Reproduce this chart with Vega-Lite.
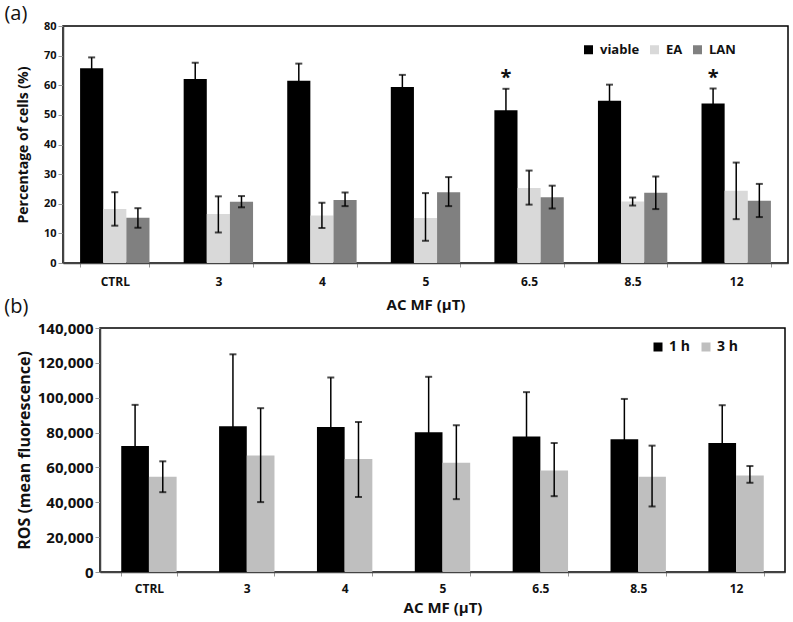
{
  "$schema": "https://vega.github.io/schema/vega-lite/v6.json",
  "padding": {"left": 3, "top": 3, "right": 2, "bottom": 2},
  "background": "white",
  "config": {
    "font": "Open Sans",
    "view": {"stroke": "#000", "strokeWidth": 1.5},
    "axis": {
      "grid": false,
      "domainColor": "#444",
      "domainWidth": 1.5,
      "tickColor": "#999",
      "tickWidth": 1,
      "labelFont": "Open Sans",
      "labelFontWeight": "bold",
      "labelColor": "#111",
      "titleFont": "Open Sans",
      "titleFontWeight": "bold",
      "titleColor": "#111"
    },
    "legend": {"labelFont": "Open Sans", "labelFontWeight": "bold", "labelColor": "#111"}
  },
  "datasets": {
    "a": [
      {"dose": "CTRL", "cell": "viable", "v": 65.7, "lo": 62.0, "hi": 69.4},
      {"dose": "CTRL", "cell": "EA", "v": 18.2, "lo": 12.6, "hi": 23.9},
      {"dose": "CTRL", "cell": "LAN", "v": 15.3, "lo": 11.9, "hi": 18.5},
      {"dose": "3", "cell": "viable", "v": 62.1, "lo": 56.6, "hi": 67.6},
      {"dose": "3", "cell": "EA", "v": 16.5, "lo": 10.3, "hi": 22.5},
      {"dose": "3", "cell": "LAN", "v": 20.7, "lo": 18.8, "hi": 22.6},
      {"dose": "4", "cell": "viable", "v": 61.5, "lo": 55.7, "hi": 67.3},
      {"dose": "4", "cell": "EA", "v": 16.0, "lo": 11.8, "hi": 20.3},
      {"dose": "4", "cell": "LAN", "v": 21.3, "lo": 19.2, "hi": 23.8},
      {"dose": "5", "cell": "viable", "v": 59.4, "lo": 55.3, "hi": 63.5},
      {"dose": "5", "cell": "EA", "v": 15.2, "lo": 7.5, "hi": 23.6},
      {"dose": "5", "cell": "LAN", "v": 23.9, "lo": 19.2, "hi": 29.0},
      {"dose": "6.5", "cell": "viable", "v": 51.6, "lo": 44.4, "hi": 58.8},
      {"dose": "6.5", "cell": "EA", "v": 25.3, "lo": 19.7, "hi": 31.2},
      {"dose": "6.5", "cell": "LAN", "v": 22.2, "lo": 18.4, "hi": 26.1},
      {"dose": "8.5", "cell": "viable", "v": 54.8, "lo": 49.4, "hi": 60.2},
      {"dose": "8.5", "cell": "EA", "v": 20.8, "lo": 19.4, "hi": 22.1},
      {"dose": "8.5", "cell": "LAN", "v": 23.7, "lo": 18.2, "hi": 29.2},
      {"dose": "12", "cell": "viable", "v": 53.8, "lo": 48.7, "hi": 58.9},
      {"dose": "12", "cell": "EA", "v": 24.4, "lo": 14.8, "hi": 33.9},
      {"dose": "12", "cell": "LAN", "v": 21.0, "lo": 15.5, "hi": 26.7}
    ],
    "stars": [
      {"dose": "6.5", "cell": "viable", "y": 60.5, "label": "*"},
      {"dose": "12", "cell": "viable", "y": 60.5, "label": "*"}
    ],
    "b": [
      {"dose": "CTRL", "time": "1 h", "v": 72300, "lo": 48700, "hi": 95900},
      {"dose": "CTRL", "time": "3 h", "v": 54700, "lo": 45800, "hi": 63500},
      {"dose": "3", "time": "1 h", "v": 83600, "lo": 42300, "hi": 124900},
      {"dose": "3", "time": "3 h", "v": 66900, "lo": 40100, "hi": 94000},
      {"dose": "4", "time": "1 h", "v": 83200, "lo": 54800, "hi": 111600},
      {"dose": "4", "time": "3 h", "v": 64800, "lo": 43000, "hi": 86100},
      {"dose": "5", "time": "1 h", "v": 80200, "lo": 48400, "hi": 112000},
      {"dose": "5", "time": "3 h", "v": 62700, "lo": 41800, "hi": 84200},
      {"dose": "6.5", "time": "1 h", "v": 77700, "lo": 52200, "hi": 103200},
      {"dose": "6.5", "time": "3 h", "v": 58300, "lo": 43500, "hi": 74000},
      {"dose": "8.5", "time": "1 h", "v": 76100, "lo": 52900, "hi": 99300},
      {"dose": "8.5", "time": "3 h", "v": 54700, "lo": 37600, "hi": 72500},
      {"dose": "12", "time": "1 h", "v": 74000, "lo": 52300, "hi": 95700},
      {"dose": "12", "time": "3 h", "v": 55400, "lo": 51200, "hi": 60800}
    ],
    "empty": []
  },
  "spacing": -17,
  "resolve": {
    "scale": {"x": "independent", "y": "independent", "color": "independent", "xOffset": "independent"},
    "legend": {"color": "independent"}
  },
  "vconcat": [
    {
      "title": {"text": "(a)", "anchor": "start", "dx": -12, "fontSize": 20, "fontWeight": "normal", "font": "Open Sans", "offset": -4, "color": "#111"},
      "width": 725,
      "height": 237,
      "data": {"name": "a"},
      "encoding": {
        "x": {
          "field": "dose", "type": "nominal",
          "sort": ["CTRL", "3", "4", "5", "6.5", "8.5", "12"],
          "scale": {"paddingInner": 0.33, "paddingOuter": 0.165},
          "axis": {"title": "AC MF (μT)", "labelAngle": 0, "labelFontSize": 12, "titleFontSize": 15, "tickBand": "extent", "tickSize": 4, "labelPadding": 9, "titlePadding": 10}
        },
        "xOffset": {"field": "cell", "type": "nominal", "sort": ["viable", "EA", "LAN"], "scale": {"paddingInner": 0, "paddingOuter": 0}}
      },
      "layer": [
        {
          "mark": {"type": "bar"},
          "encoding": {
            "y": {
              "field": "v", "type": "quantitative",
              "scale": {"domain": [0, 80], "nice": false},
              "axis": {"title": "Percentage of cells (%)", "tickCount": 8, "labelFontSize": 11, "titleFontSize": 14, "tickSize": 5, "labelPadding": 2, "titlePadding": 13}
            },
            "color": {
              "field": "cell", "type": "nominal",
              "scale": {"domain": ["viable", "EA", "LAN"], "range": ["#000000", "#d9d9d9", "#808080"]},
              "legend": {"title": null, "orient": "none", "legendX": 519, "legendY": 17, "direction": "horizontal", "symbolType": "square", "symbolSize": 81, "symbolStrokeWidth": 0, "labelFontSize": 13, "labelOffset": 5, "columnPadding": 8}
            }
          }
        },
        {
          "mark": {"type": "rule", "color": "#000", "strokeWidth": 1.5},
          "encoding": {"y": {"field": "lo", "type": "quantitative"}, "y2": {"field": "hi"}}
        },
        {
          "mark": {"type": "tick", "orient": "horizontal", "size": 7, "thickness": 2, "color": "#000"},
          "encoding": {"y": {"field": "hi", "type": "quantitative"}}
        },
        {
          "mark": {"type": "tick", "orient": "horizontal", "size": 7, "thickness": 2, "color": "#000"},
          "encoding": {"y": {"field": "lo", "type": "quantitative"}}
        },
        {
          "data": {"name": "stars"},
          "mark": {"type": "text", "fontSize": 20, "fontWeight": "bold", "baseline": "alphabetic", "color": "#111"},
          "encoding": {"y": {"field": "y", "type": "quantitative"}, "text": {"field": "label"}}
        }
      ]
    },
    {
      "spacing": -61,
      "hconcat": [
        {
          "width": 1,
          "height": 1,
          "view": {"stroke": null},
          "data": {"name": "empty"},
          "mark": {"type": "rect"},
          "encoding": {}
        },
        {
          "title": {"text": "(b)", "anchor": "start", "dx": -12, "fontSize": 20, "fontWeight": "normal", "font": "Open Sans", "offset": 4, "color": "#111"},
          "width": 685,
          "height": 244,
          "data": {"name": "b"},
          "encoding": {
            "x": {
              "field": "dose", "type": "nominal",
              "sort": ["CTRL", "3", "4", "5", "6.5", "8.5", "12"],
              "scale": {"paddingInner": 0.434, "paddingOuter": 0.217},
              "axis": {"title": "AC MF (μT)", "labelAngle": 0, "labelFontSize": 12, "titleFontSize": 15, "tickBand": "extent", "tickSize": 4, "labelPadding": 7, "titlePadding": 6}
            },
            "xOffset": {"field": "time", "type": "nominal", "sort": ["1 h", "3 h"], "scale": {"paddingInner": 0, "paddingOuter": 0}}
          },
          "layer": [
            {
              "mark": {"type": "bar"},
              "encoding": {
                "y": {
                  "field": "v", "type": "quantitative",
                  "scale": {"domain": [0, 140000], "nice": false},
                  "axis": {"title": "ROS (mean fluorescence)", "format": ",d", "tickCount": 7, "labelFontSize": 15, "titleFontSize": 16, "tickSize": 5, "labelPadding": 2, "titlePadding": 5}
                },
                "color": {
                  "field": "time", "type": "nominal",
                  "scale": {"domain": ["1 h", "3 h"], "range": ["#000000", "#bfbfbf"]},
                  "legend": {"title": null, "orient": "none", "legendX": 588, "legendY": 12, "direction": "horizontal", "symbolType": "square", "symbolSize": 81, "symbolStrokeWidth": 0, "labelFontSize": 14, "labelOffset": 4, "columnPadding": 9}
                }
              }
            },
            {
              "mark": {"type": "rule", "color": "#000", "strokeWidth": 1.5},
              "encoding": {"y": {"field": "lo", "type": "quantitative"}, "y2": {"field": "hi"}}
            },
            {
              "mark": {"type": "tick", "orient": "horizontal", "size": 7, "thickness": 2, "color": "#000"},
              "encoding": {"y": {"field": "hi", "type": "quantitative"}}
            },
            {
              "mark": {"type": "tick", "orient": "horizontal", "size": 7, "thickness": 2, "color": "#000"},
              "encoding": {"y": {"field": "lo", "type": "quantitative"}}
            }
          ]
        }
      ]
    }
  ]
}
